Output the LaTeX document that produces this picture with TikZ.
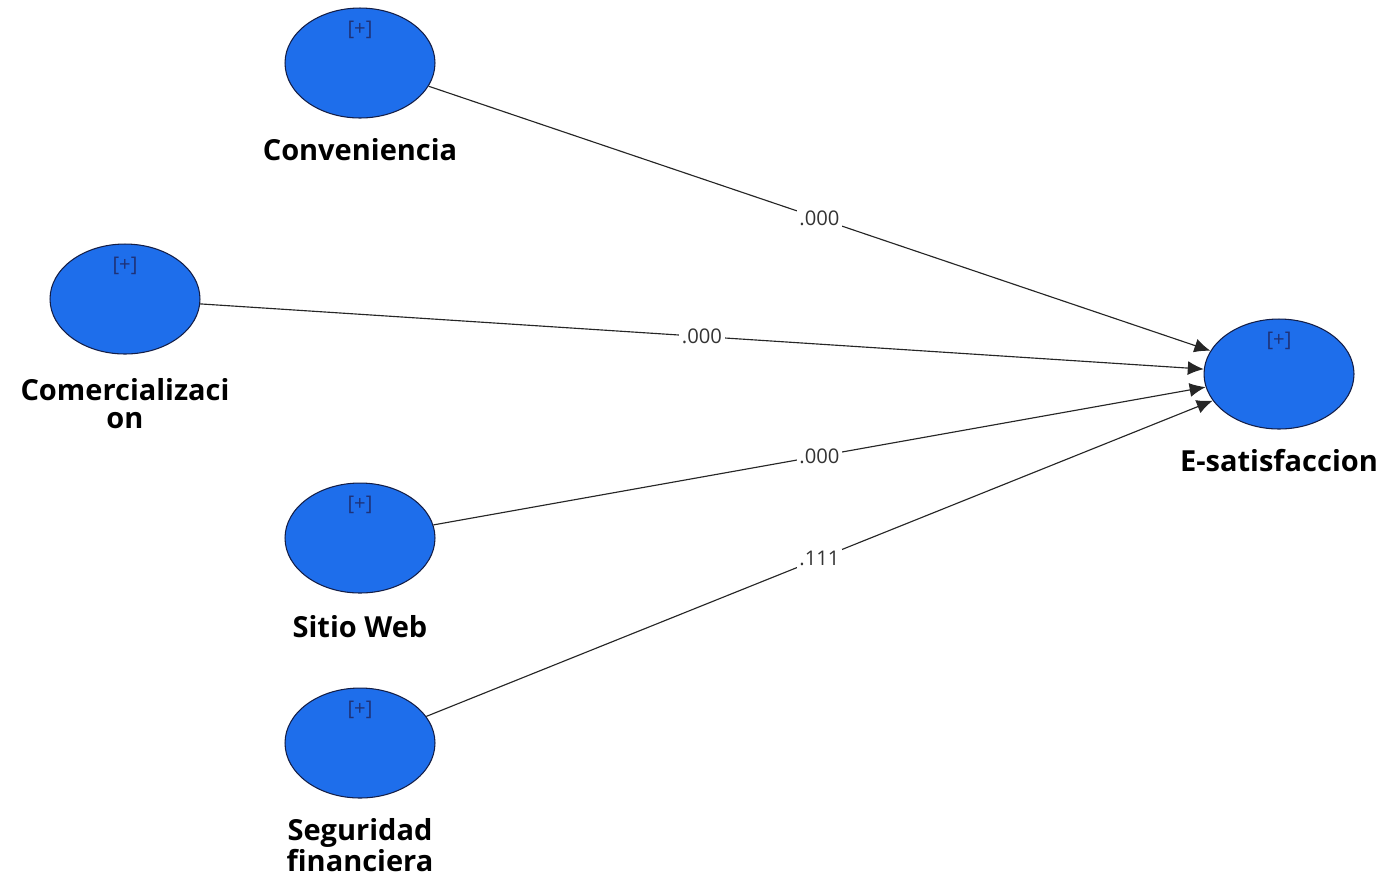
\documentclass[tikz,border=0pt]{standalone}
\usepackage{fontspec}
\setmainfont{Open Sans}
\usetikzlibrary{shapes.geometric,positioning,arrows.meta}
\definecolor{lvblue}{RGB}{30,110,235}
\definecolor{lvline}{RGB}{20,30,70}
\definecolor{plusblue}{RGB}{30,50,120}
\begin{document}
\begin{tikzpicture}[x=0.02cm, y=-0.02cm,
  lv/.style = {shape=ellipse, draw=lvline, fill=lvblue, line width=0.6pt,
    minimum width=3cm, minimum height=2.2cm, inner sep=0pt},
  lvname/.style = {align=center, inner sep=0pt, font=\fontsize{16.5}{15.5}\selectfont\bfseries},
  plus/.style = {inner sep=0pt, text=plusblue, font=\fontsize{11.5}{12}\selectfont},
  path/.style = {draw=black!85, line width=0.65pt, -{Latex[length=0.32cm,width=0.28cm]}},
  coef/.style = {midway, fill=white, inner sep=1.5pt, text=black!80, font=\fontsize{11.5}{12}\selectfont}
  ]
  \useasboundingbox (0,0) rectangle (1391,877);
  % latent variables
  \node[lv] (conv)  at (360,63)   {};
  \node[lv] (comer) at (125,299)  {};
  \node[lv] (web)   at (360,538)  {};
  \node[lv] (seg)   at (360,743)  {};
  \node[lv] (esat)  at (1279,374) {};
  % [+] marks
  \foreach \v in {conv,comer,web,seg,esat}
    \node[plus] (\v plus) at ([yshift=-0.44cm]\v.north) {[+]};
  % names
  \node[lvname, below=0.4cm of conv]   (convname)  {Conveniencia};
  \node[lvname, below=0.48cm of comer] (comername) {Comercializaci\\on};
  \node[lvname, below=0.38cm of esat]  (esatname)  {E-satisfaccion};
  \node[lvname, below=0.44cm of web]   (webname)   {Sitio Web};
  \node[lvname, below=0.4cm of seg]    (segname)   {Seguridad\\financiera};
  % paths
  \draw[path] (conv)  -- node[coef] {.000} (esat);
  \draw[path] (comer) -- node[coef] {.000} (esat);
  \draw[path] (web)   -- node[coef] {.000} (esat);
  \draw[path] (seg)   -- node[coef] {.111} (esat);
\end{tikzpicture}
\end{document}
